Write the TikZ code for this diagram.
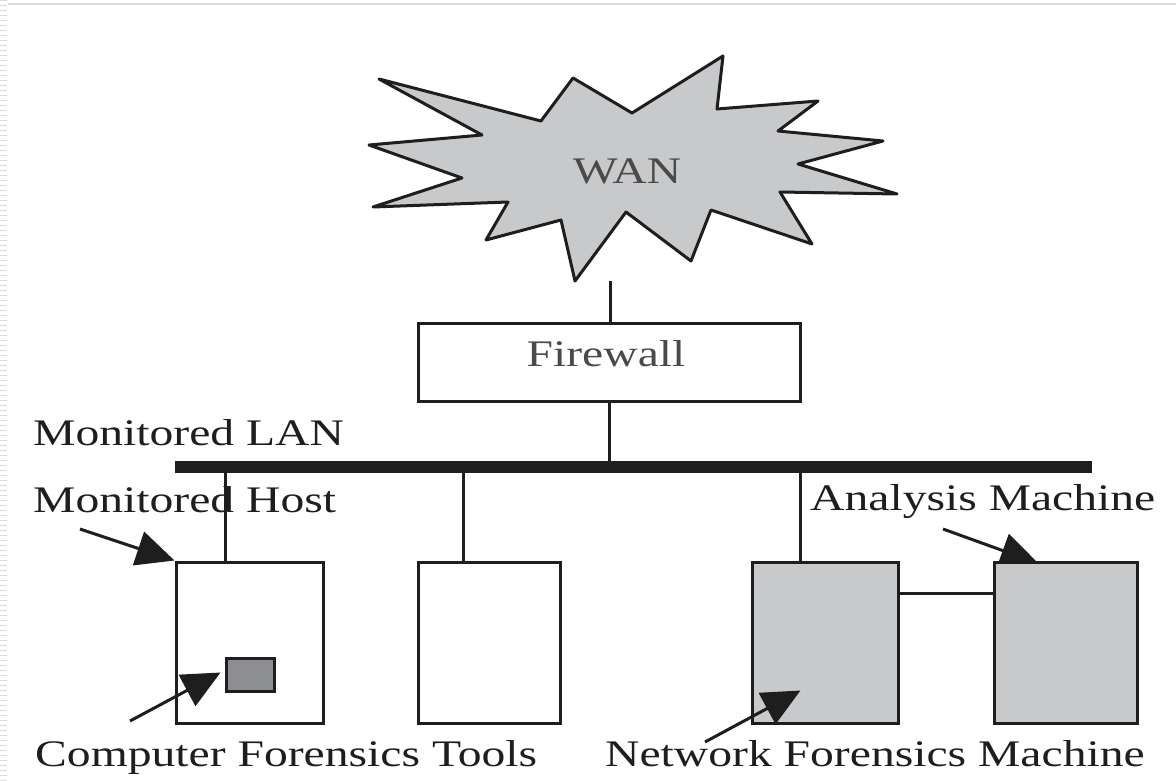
\documentclass[tikz,border=0pt]{standalone}
\usepackage{fontspec}
\setmainfont{Liberation Serif}[FakeStretch=1.27]
\usetikzlibrary{arrows.meta,calc}
\pgfdeclarelayer{background}
\pgfsetlayers{background,main}
\definecolor{boxgray}{HTML}{C8C9CB}
\definecolor{toolgray}{HTML}{8D8E91}
\definecolor{ink}{HTML}{1E1E1E}
\definecolor{softink}{HTML}{4A4A4A}
\definecolor{edgegray}{HTML}{DCDCDC}
\begin{document}
\begin{tikzpicture}[x=1pt,y=-1pt,
  box/.style={draw=ink, line width=3pt, inner sep=0pt, minimum height=161pt},
  txt/.style={font=\fontsize{37.5}{45}\selectfont, text=ink, inner sep=0pt, anchor=base west},
  wire/.style={draw=ink, line width=3pt},
  pointer/.style={draw=ink, line width=3pt, -{Triangle[length=38pt,width=35pt]}}]

\useasboundingbox (0,0) rectangle (1176,781);
\begin{pgfonlayer}{background}
  \fill[white] (0,0) rectangle (1176,781);
  % page edge: thin rule on top, ruled strip on the left
  \draw[edgegray, line width=1.5pt] (8,4) -- (1176,4);
  \draw[edgegray, line width=7pt, dash pattern=on 1.3pt off 3.7pt] (3.5,0) -- (3.5,781);
\end{pgfonlayer}

% WAN cloud
\filldraw[fill=boxgray, draw=ink, line width=3pt, line join=round]
  (379,79) -- (541,121) -- (573,78) -- (632,113) -- (723,56) -- (717,109)
  -- (818,101) -- (778,131) -- (883,141) -- (798,164) -- (897,194)
  -- (780,192) -- (812,244) -- (711,210) -- (691,261) -- (626,212)
  -- (575,281) -- (561,220) -- (486,240) -- (508,202) -- (373,207)
  -- (462,178) -- (369,145) -- (482,135) -- cycle;
\node[txt, anchor=base, text=softink] (wan) at (627,184) {WAN};
\coordinate (wanfoot) at (610,281);

% firewall
\node[box, minimum width=382pt, minimum height=78pt] (fw) at (609,362) {};
\node[txt, anchor=base, text=softink] (fwtext) at (606,366) {Firewall};

% monitored LAN bus
\node[fill=ink, inner sep=0pt, minimum width=917pt, minimum height=12pt] (lan) at (633.5,467) {};

% machines
\node[box, fill=white, minimum width=147pt] (host) at (249.5,642.5) {};
\node[box, fill=white, minimum width=142pt] (mid) at (489,642.5) {};
\node[box, fill=boxgray, minimum width=146pt] (nfm) at (825,642.5) {};
\node[box, fill=boxgray, minimum width=143pt] (ana) at (1065.5,642.5) {};
\node[draw=ink, line width=3pt, fill=toolgray, inner sep=0pt,
      minimum width=48pt, minimum height=33pt] (tool) at (250,674.5) {};

% links
\draw[wire] (wanfoot) -- (wanfoot |- fw.north);
\draw[wire] (fw.south) -- (fw.south |- lan.north);
\draw[wire] ($(host.north west)+(51,0)$) coordinate (hup) -- (hup |- lan.south);
\draw[wire] ($(mid.north west)+(47,0)$) coordinate (mup) -- (mup |- lan.south);
\draw[wire] ($(nfm.north west)+(50,0)$) coordinate (nup) -- (nup |- lan.south);
\draw[wire] ($(nfm.north east)+(0,33)$) -- ($(ana.north west)+(0,33)$);

% labels
\node[txt] (lanlabel) at (33,445) {Monitored LAN};
\node[txt] (hostlabel) at (33,512) {Monitored Host};
\node[txt] (analabel) at (810,510) {Analysis Machine};
\node[txt] (cftlabel) at (35,766) {Computer Forensics Tools};
\node[txt] (nfmlabel) at (605,766) {Network Forensics Machine};

% pointers
\coordinate (hostptr) at (80,529);
\coordinate (cftptr) at (130,721);
\coordinate (nfmptr) at (705,742);
\coordinate (anaptr) at (943,529);
\draw[pointer] (hostptr) -- (host.north west);
\draw[pointer] (cftptr) -- ($(tool.west)+(-4,-2)$);
\draw[pointer] (nfmptr) -- ($(nfm.south west)+(50,-34)$);
\begin{pgfonlayer}{background}
  \draw[pointer] (anaptr) -- ($(ana.north west)+(46,3)$);
\end{pgfonlayer}
\end{tikzpicture}
\end{document}
